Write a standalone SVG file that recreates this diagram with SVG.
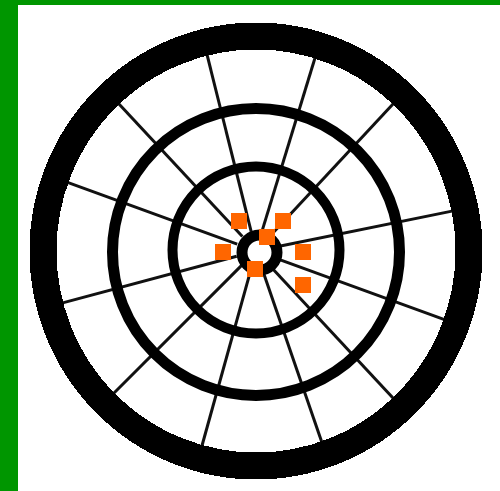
<svg xmlns="http://www.w3.org/2000/svg" width="500" height="491" viewBox="0 0 500 491">
  <style>
    .ring { fill: none; stroke: #000; }
    .spoke { stroke: #111; stroke-width: 3; }
    .dot { fill: #ff6600; }
  </style>
  <g id="frame">
    <rect x="0" y="0" width="500" height="491" fill="#ffffff"/>
    <rect x="0" y="0" width="500" height="5" fill="#009600"/>
    <rect x="0" y="0" width="18" height="491" fill="#009600"/>
  </g>
  <g id="spokes">
    <line class="spoke" x1="275.6" y1="247.0" x2="456.9" y2="210.1"/>
    <line class="spoke" x1="269.6" y1="236.4" x2="395.8" y2="101.1"/>
    <line class="spoke" x1="261.8" y1="231.9" x2="315.9" y2="55.0"/>
    <line class="spoke" x1="251.2" y1="231.6" x2="206.4" y2="52.1"/>
    <line class="spoke" x1="242.4" y1="236.4" x2="116.2" y2="101.1"/>
    <line class="spoke" x1="237.2" y1="244.2" x2="63.4" y2="180.9"/>
    <line class="spoke" x1="236.7" y1="256.2" x2="58.0" y2="304.1"/>
    <line class="spoke" x1="241.9" y1="265.1" x2="111.0" y2="396.0"/>
    <line class="spoke" x1="250.7" y1="270.3" x2="201.2" y2="448.5"/>
    <line class="spoke" x1="262.5" y1="269.9" x2="322.7" y2="444.8"/>
    <line class="spoke" x1="269.6" y1="265.6" x2="395.8" y2="400.9"/>
    <line class="spoke" x1="274.8" y1="257.8" x2="448.6" y2="321.1"/>
  </g>
  <g id="rings">
    <ellipse id="ring-outer" class="ring" cx="256" cy="251" rx="213" ry="215" stroke-width="27" shape-rendering="crispEdges"/>
    <circle id="ring-middle" class="ring" cx="256" cy="252" r="143.5" stroke-width="11"/>
    <circle id="ring-inner" class="ring" cx="256" cy="250" r="83.5" stroke-width="10"/>
    <circle id="ring-center" class="ring" cx="259.5" cy="252.5" r="17.5" stroke-width="11"/>
  </g>
  <g id="markers">
    <rect class="dot" x="231" y="213" width="16" height="16"/>
    <rect class="dot" x="275" y="213" width="16" height="16"/>
    <rect class="dot" x="259" y="229" width="16" height="16"/>
    <rect class="dot" x="215" y="244" width="16" height="16"/>
    <rect class="dot" x="295" y="244" width="16" height="16"/>
    <rect class="dot" x="247" y="261" width="16" height="16"/>
    <rect class="dot" x="295" y="277" width="16" height="16"/>
  </g>
</svg>
